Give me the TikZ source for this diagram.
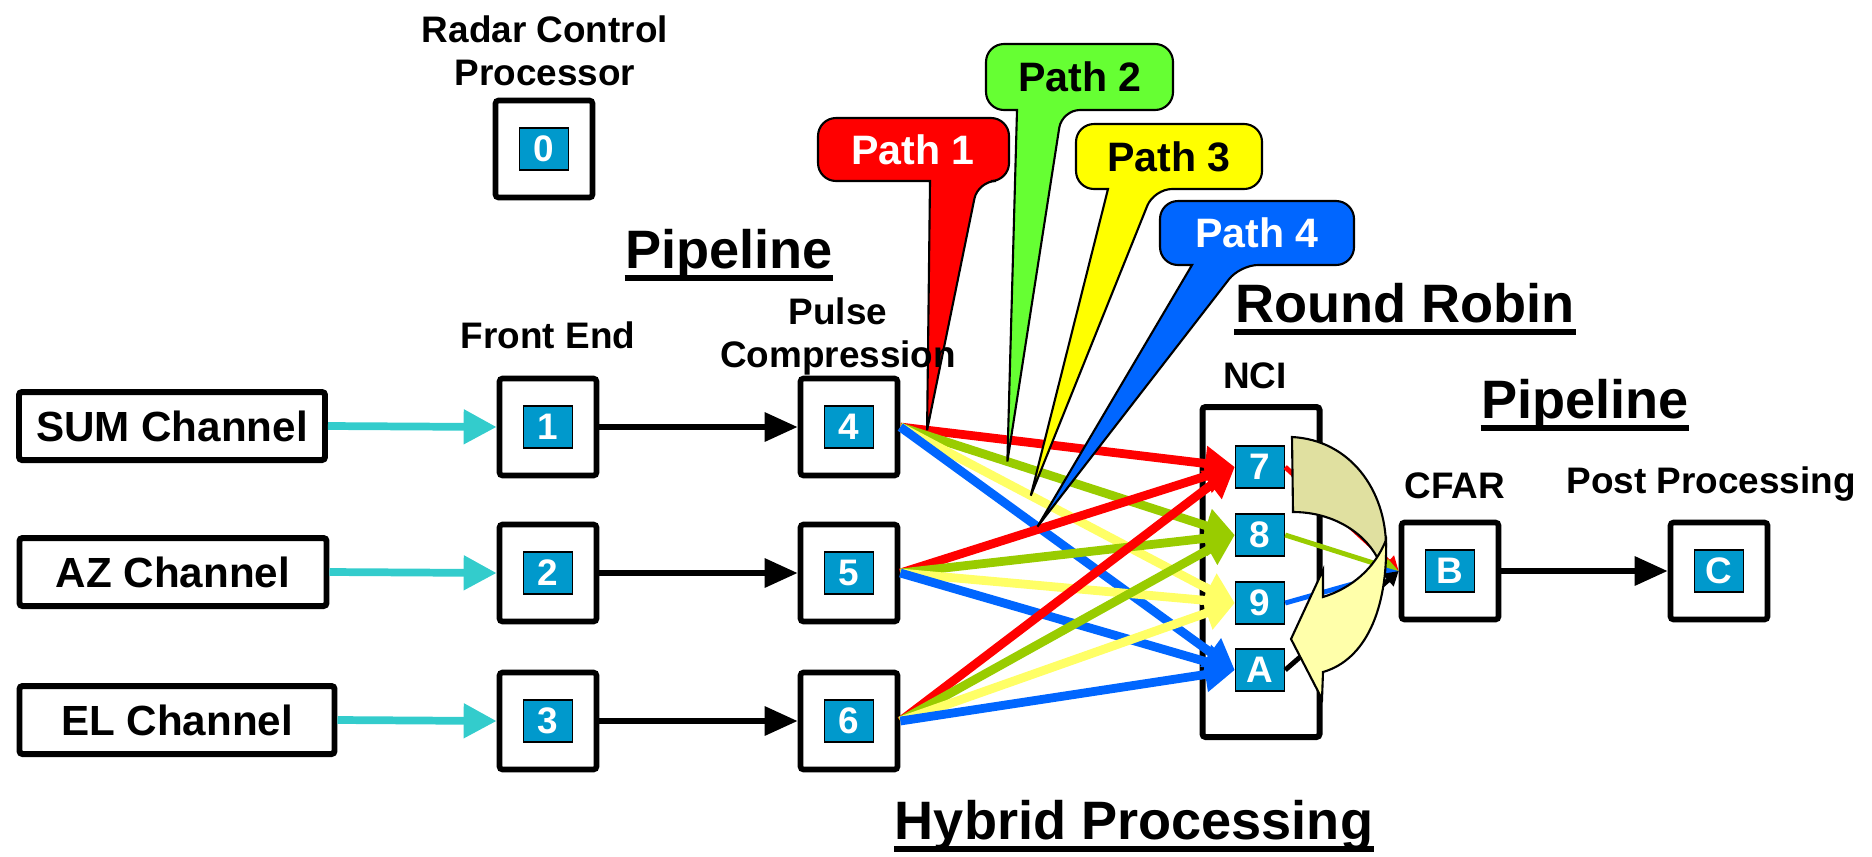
\documentclass[tikz,border=0pt]{standalone}
\usepackage{fontspec}
\setmainfont{Liberation Sans}
\usetikzlibrary{arrows.meta,calc}

\definecolor{coreblue}{HTML}{0099CC}
\definecolor{feedcyan}{HTML}{33CCCC}
\definecolor{pathred}{HTML}{FF0000}
\definecolor{pathgreen}{HTML}{66FF33}
\definecolor{pathyellow}{HTML}{FFFF00}
\definecolor{pathblue}{HTML}{0066FF}
\definecolor{linegreen}{HTML}{99CC00}
\definecolor{lineyellow}{HTML}{FFFF66}
\definecolor{turnback}{HTML}{E0E0A0}
\definecolor{turnfront}{HTML}{FFFFAA}

\tikzset{
  chanbox/.style={draw, line width=1.7pt, rounded corners=0.3mm, minimum height=6.8mm, inner sep=0pt, font=\fontsize{12}{14}\selectfont\bfseries},
  unitbox/.style={draw, line width=1.6pt, rounded corners=0.3mm, minimum width=9.7mm, minimum height=9.7mm, inner sep=0pt},
  corebox/.style={draw, fill=coreblue, line width=0.4pt, minimum width=4.9mm, minimum height=4.2mm, inner sep=0pt, text=white, font=\fontsize{10.5}{12}\selectfont\bfseries},
  lbl/.style={inner sep=0pt, anchor=base, font=\fontsize{10.5}{12.2}\selectfont\bfseries},
  heading/.style={inner sep=0pt, anchor=base, font=\fontsize{15.4}{18}\selectfont\bfseries},
  ul/.style={line width=1.7pt},
  feedarrow/.style={feedcyan, line width=2.2pt, -{Triangle[length=9.4pt,width=9.4pt]}},
  pipearrow/.style={line width=1.7pt, -{Triangle[length=9.4pt,width=8pt]}},
  routearrow/.style={line width=2.5pt, -{Triangle[length=8.5pt,width=9.5pt]}},
  mergearrow/.style={line width=1.4pt, -{Triangle[length=4pt,width=4.5pt]}},
  callbox/.style={line width=0.6pt},
  pathtxt/.style={inner sep=0pt, font=\fontsize{11.7}{14}\selectfont\bfseries}
}

\begin{document}
\begin{tikzpicture}[x=0.1mm,y=-0.1mm]
    \useasboundingbox (0,0) rectangle (1872,856);

    % inputs
    \node[chanbox, minimum width=30.6mm] (sum) at (172,426) {SUM Channel};
    \node[chanbox, minimum width=30.7mm] (az) at (173,572) {AZ Channel};
    \node[chanbox, minimum width=31.5mm] (el) at (177,720) {EL Channel};

    % processors
    \node[unitbox] (u0) at (544,149) {};
    \node[unitbox] (u1) at (548,427) {};
    \node[unitbox] (u2) at (548,573) {};
    \node[unitbox] (u3) at (548,721) {};
    \node[unitbox] (u4) at (849,427) {};
    \node[unitbox] (u5) at (849,573) {};
    \node[unitbox] (u6) at (849,721) {};
    \node[unitbox] (uB) at (1450,571) {};
    \node[unitbox] (uC) at (1719,571) {};
    \node[corebox] at (u0) {0};
    \node[corebox] at (u1) {1};
    \node[corebox] at (u2) {2};
    \node[corebox] at (u3) {3};
    \node[corebox] at (u4) {4};
    \node[corebox] at (u5) {5};
    \node[corebox] at (u6) {6};
    \node[corebox] at (uB) {B};
    \node[corebox] at (uC) {C};

    \node[draw, line width=1.7pt, rounded corners=0.3mm, minimum width=11.7mm, minimum height=33mm] (ncibox) at (1261,572) {};
    \node[corebox] (s7) at (1260,467) {7};
    \node[corebox] (s8) at (1260,535) {8};
    \node[corebox] (s9) at (1260,603) {9};
    \node[corebox] (sA) at (1260,670) {A};

    \draw[feedarrow] (sum.east) -- (u1.west);
    \draw[feedarrow] (az.east) -- (u2.west);
    \draw[feedarrow] (el.east) -- (u3.west);
    \draw[pipearrow] (u1.east) -- (u4.west);
    \draw[pipearrow] (u2.east) -- (u5.west);
    \draw[pipearrow] (u3.east) -- (u6.west);
    \draw[pipearrow] (uB.east) -- (uC.west);

    \foreach \src in {u4,u5,u6} {
        \draw[routearrow, pathred] (\src.east) -- (s7.west);
        \draw[routearrow, linegreen] (\src.east) -- (s8.west);
        \draw[routearrow, lineyellow] (\src.east) -- (s9.west);
        \draw[routearrow, pathblue] (\src.east) -- (sA.west);
    }

    \draw[mergearrow, pathred] (s7.east) -- (uB.west);
    \draw[mergearrow, linegreen] (s8.east) -- (uB.west);
    \draw[mergearrow, pathblue] (s9.east) -- (uB.west);
    \draw[mergearrow] (sA.east) -- (uB.west);

    % round robin turn
    \filldraw[fill=turnback, line width=0.6pt] (1292,437) .. controls (1350,440) and (1386,490) .. (1386,547)
        -- (1377,557) .. controls (1362,530) and (1330,512) .. (1293,512) -- cycle;
    \filldraw[fill=turnfront, line width=0.6pt] (1386,540) .. controls (1388,610) and (1365,660) .. (1323,672)
        -- (1322,699) -- (1291,639) -- (1323,570) -- (1323,597)
        .. controls (1352,588) and (1375,568) .. (1386,540) -- cycle;

    % path callouts
    \coordinate (t1) at ($(u4.east)!0.08!(s7.west)$);
    \coordinate (t2) at ($(u4.east)!0.32!(s8.west)$);
    \coordinate (t3) at ($(u4.east)!0.39!(s9.west)$);
    \coordinate (t4) at ($(u4.east)!0.41!(sA.west)$);
    \filldraw[callbox, fill=pathred] (930,181) [rounded corners=1.8mm] -- (818,181) -- (818,118) -- (1009,118) -- (1009,181) -- (978,181) [sharp corners] -- (t1) -- cycle;
    \filldraw[callbox, fill=pathgreen] (1017,110) [rounded corners=1.8mm] -- (986,110) -- (986,44) -- (1173,44) -- (1173,110) -- (1062,110) [sharp corners] -- (t2) -- cycle;
    \filldraw[callbox, fill=pathyellow] (1108,189) [rounded corners=1.8mm] -- (1076,189) -- (1076,124) -- (1262,124) -- (1262,189) -- (1154,189) [sharp corners] -- (t3) -- cycle;
    \filldraw[callbox, fill=pathblue] (1192,265) [rounded corners=1.8mm] -- (1160,265) -- (1160,201) -- (1354,201) -- (1354,265) -- (1240,265) [sharp corners] -- (t4) -- cycle;
    \node[pathtxt, text=white] (p1) at (913,150) {Path 1};
    \node[pathtxt] (p2) at (1080,77) {Path 2};
    \node[pathtxt] (p3) at (1169,157) {Path 3};
    \node[pathtxt, text=white] (p4) at (1257,233) {Path 4};

    % labels
    \node[lbl, anchor=north, align=center] (radar) at (545,15) {Radar Control\\Processor};
    \node[lbl] (fe) at (548,348) {Front End};
    \node[lbl, anchor=north, align=center] (pc) at (838,297) {Pulse\\Compression};
    \node[lbl] (nci) at (1255,388) {NCI};
    \node[lbl] (cfar) at (1455,498) {CFAR};
    \node[lbl] (post) at (1711,493) {Post Processing};

    \node[heading] (pipe1) at (729,268) {Pipeline};
    \node[heading] (robin) at (1405,322) {Round Robin};
    \node[heading] (pipe2) at (1585,418) {Pipeline};
    \node[heading] (hybrid) at (1134,839) {Hybrid Processing};
    \foreach \h in {pipe1,robin,pipe2,hybrid}
        \draw[ul] ([yshift=-1mm]\h.base west) -- ([yshift=-1mm]\h.base east);
\end{tikzpicture}
\end{document}
